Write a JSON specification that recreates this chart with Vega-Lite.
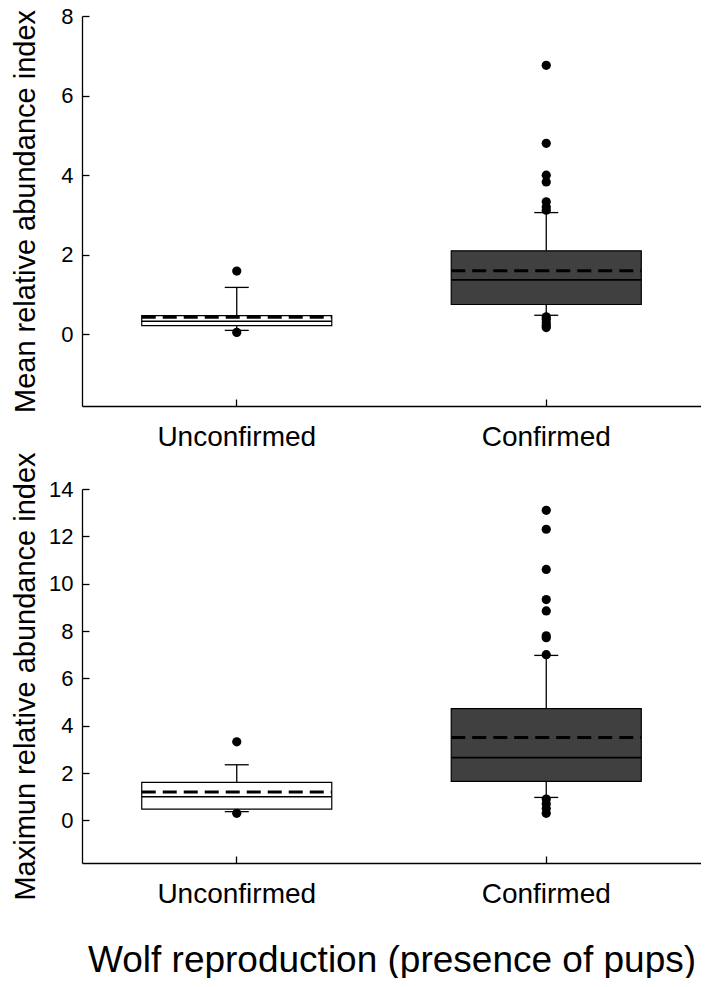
{
  "$schema": "https://vega.github.io/schema/vega-lite/v6.json",
  "background": "white",
  "padding": {"left": 10, "top": 5, "right": 0, "bottom": 0},
  "autosize": {"type": "pad"},
  "config": {
    "view": {"stroke": null},
    "font": "Liberation Sans",
    "axis": {
      "domainColor": "black", "domainWidth": 1.3, "tickColor": "black", "tickWidth": 1.3, "tickSize": -7,
      "labelColor": "black", "titleColor": "black", "grid": false,
      "labelFont": "Liberation Sans", "titleFont": "Liberation Sans", "titleFontWeight": "normal"
    }
  },
  "datasets": {
    "stats": [
      {"panel": "mean", "group": "Unconfirmed", "lower": 0.1, "q1": 0.22, "median": 0.33, "mean": 0.43, "q3": 0.47, "upper": 1.18},
      {"panel": "mean", "group": "Confirmed", "lower": 0.48, "q1": 0.75, "median": 1.37, "mean": 1.6, "q3": 2.1, "upper": 3.06},
      {"panel": "max", "group": "Unconfirmed", "lower": 0.37, "q1": 0.48, "median": 1.0, "mean": 1.2, "q3": 1.61, "upper": 2.35},
      {"panel": "max", "group": "Confirmed", "lower": 0.97, "q1": 1.65, "median": 2.65, "mean": 3.5, "q3": 4.72, "upper": 6.97}
    ],
    "outliers": [
      {"panel": "mean", "group": "Unconfirmed", "value": 1.59},
      {"panel": "mean", "group": "Unconfirmed", "value": 0.05},
      {"panel": "mean", "group": "Confirmed", "value": 6.76},
      {"panel": "mean", "group": "Confirmed", "value": 4.8},
      {"panel": "mean", "group": "Confirmed", "value": 4.0},
      {"panel": "mean", "group": "Confirmed", "value": 3.83},
      {"panel": "mean", "group": "Confirmed", "value": 3.33},
      {"panel": "mean", "group": "Confirmed", "value": 3.2},
      {"panel": "mean", "group": "Confirmed", "value": 3.12},
      {"panel": "mean", "group": "Confirmed", "value": 0.44},
      {"panel": "mean", "group": "Confirmed", "value": 0.38},
      {"panel": "mean", "group": "Confirmed", "value": 0.3},
      {"panel": "mean", "group": "Confirmed", "value": 0.23},
      {"panel": "mean", "group": "Confirmed", "value": 0.17},
      {"panel": "max", "group": "Unconfirmed", "value": 3.32},
      {"panel": "max", "group": "Unconfirmed", "value": 0.3},
      {"panel": "max", "group": "Confirmed", "value": 13.1},
      {"panel": "max", "group": "Confirmed", "value": 12.3},
      {"panel": "max", "group": "Confirmed", "value": 10.6},
      {"panel": "max", "group": "Confirmed", "value": 9.33},
      {"panel": "max", "group": "Confirmed", "value": 8.85},
      {"panel": "max", "group": "Confirmed", "value": 7.8},
      {"panel": "max", "group": "Confirmed", "value": 7.72},
      {"panel": "max", "group": "Confirmed", "value": 7.0},
      {"panel": "max", "group": "Confirmed", "value": 0.9},
      {"panel": "max", "group": "Confirmed", "value": 0.7},
      {"panel": "max", "group": "Confirmed", "value": 0.5},
      {"panel": "max", "group": "Confirmed", "value": 0.3}
    ]
  },
  "spacing": 83,
  "bounds": "flush",
  "vconcat": [
    {
      "width": 619,
      "height": 390,
      "layer": [
        {
          "data": {"name": "stats"},
          "transform": [{"filter": "datum.panel === 'mean'"}],
          "mark": {"type": "rule", "color": "black", "strokeWidth": 1.3},
          "encoding": {
            "x": {"field": "group", "type": "nominal", "sort": ["Unconfirmed", "Confirmed"],
              "scale": {"type": "band", "domain": ["Unconfirmed", "Confirmed"], "paddingInner": 0.386, "paddingOuter": 0.193},
              "axis": {"title": null, "labelAngle": 0, "labelFontSize": 28, "labelPadding": 24}},
            "y": {"field": "lower", "type": "quantitative",
              "scale": {"domain": [-1.8, 8], "nice": false, "zero": false},
              "axis": {"values": [0, 2, 4, 6, 8], "labelFontSize": 22, "labelPadding": 16,
                "title": "Mean relative abundance index", "titleFontSize": 29, "titleX": -48, "titleBaseline": "alphabetic"}},
            "y2": {"field": "upper"}
          }
        },
        {
          "data": {"name": "stats"},
          "transform": [{"filter": "datum.panel === 'mean'"}],
          "mark": {"type": "bar", "stroke": "black", "strokeWidth": 1.2},
          "encoding": {
            "x": {"field": "group", "type": "nominal"},
            "y": {"field": "q1", "type": "quantitative"},
            "y2": {"field": "q3"},
            "fill": {"field": "group", "type": "nominal", "scale": {"domain": ["Unconfirmed", "Confirmed"], "range": ["#ffffff", "#404040"]}, "legend": null}
          }
        },
        {
          "data": {"name": "stats"},
          "transform": [{"filter": "datum.panel === 'mean'"}],
          "mark": {"type": "rule", "color": "black", "strokeWidth": 1.6},
          "encoding": {
            "x": {"field": "group", "type": "nominal", "bandPosition": 0},
            "x2": {"field": "group", "bandPosition": 1},
            "y": {"field": "median", "type": "quantitative"}
          }
        },
        {
          "data": {"name": "stats"},
          "transform": [{"filter": "datum.panel === 'mean'"}],
          "mark": {"type": "rule", "color": "black", "strokeWidth": 3, "strokeDash": [14, 7]},
          "encoding": {
            "x": {"field": "group", "type": "nominal", "bandPosition": 0},
            "x2": {"field": "group", "bandPosition": 1},
            "y": {"field": "mean", "type": "quantitative"}
          }
        },
        {
          "data": {"name": "stats"},
          "transform": [{"filter": "datum.panel === 'mean'"}],
          "mark": {"type": "tick", "color": "black", "size": 24, "thickness": 1.3, "opacity": 1},
          "encoding": {
            "x": {"field": "group", "type": "nominal"},
            "y": {"field": "upper", "type": "quantitative"}
          }
        },
        {
          "data": {"name": "stats"},
          "transform": [{"filter": "datum.panel === 'mean'"}],
          "mark": {"type": "tick", "color": "black", "size": 24, "thickness": 1.3, "opacity": 1},
          "encoding": {
            "x": {"field": "group", "type": "nominal"},
            "y": {"field": "lower", "type": "quantitative"}
          }
        },
        {
          "data": {"name": "outliers"},
          "transform": [{"filter": "datum.panel === 'mean'"}],
          "mark": {"type": "point", "filled": true, "color": "black", "size": 85, "opacity": 1},
          "encoding": {
            "x": {"field": "group", "type": "nominal"},
            "y": {"field": "value", "type": "quantitative"}
          }
        }
      ]
    },
    {
      "width": 619,
      "height": 374,
      "layer": [
        {
          "data": {"name": "stats"},
          "transform": [{"filter": "datum.panel === 'max'"}],
          "mark": {"type": "rule", "color": "black", "strokeWidth": 1.3},
          "encoding": {
            "x": {"field": "group", "type": "nominal", "sort": ["Unconfirmed", "Confirmed"],
              "scale": {"type": "band", "domain": ["Unconfirmed", "Confirmed"], "paddingInner": 0.386, "paddingOuter": 0.193},
              "axis": {"labelAngle": 0, "labelFontSize": 28, "labelPadding": 24,
                "title": "Wolf reproduction (presence of pups)", "titleFontSize": 37, "titleY": 108, "titleBaseline": "alphabetic"}},
            "y": {"field": "lower", "type": "quantitative",
              "scale": {"domain": [-1.8, 14], "nice": false, "zero": false},
              "axis": {"values": [0, 2, 4, 6, 8, 10, 12, 14], "labelFontSize": 22, "labelPadding": 16,
                "title": "Maximun relative abundance index", "titleFontSize": 29, "titleX": -48, "titleBaseline": "alphabetic"}},
            "y2": {"field": "upper"}
          }
        },
        {
          "data": {"name": "stats"},
          "transform": [{"filter": "datum.panel === 'max'"}],
          "mark": {"type": "bar", "stroke": "black", "strokeWidth": 1.2},
          "encoding": {
            "x": {"field": "group", "type": "nominal"},
            "y": {"field": "q1", "type": "quantitative"},
            "y2": {"field": "q3"},
            "fill": {"field": "group", "type": "nominal", "scale": {"domain": ["Unconfirmed", "Confirmed"], "range": ["#ffffff", "#404040"]}, "legend": null}
          }
        },
        {
          "data": {"name": "stats"},
          "transform": [{"filter": "datum.panel === 'max'"}],
          "mark": {"type": "rule", "color": "black", "strokeWidth": 1.6},
          "encoding": {
            "x": {"field": "group", "type": "nominal", "bandPosition": 0},
            "x2": {"field": "group", "bandPosition": 1},
            "y": {"field": "median", "type": "quantitative"}
          }
        },
        {
          "data": {"name": "stats"},
          "transform": [{"filter": "datum.panel === 'max'"}],
          "mark": {"type": "rule", "color": "black", "strokeWidth": 3, "strokeDash": [14, 7]},
          "encoding": {
            "x": {"field": "group", "type": "nominal", "bandPosition": 0},
            "x2": {"field": "group", "bandPosition": 1},
            "y": {"field": "mean", "type": "quantitative"}
          }
        },
        {
          "data": {"name": "stats"},
          "transform": [{"filter": "datum.panel === 'max'"}],
          "mark": {"type": "tick", "color": "black", "size": 24, "thickness": 1.3, "opacity": 1},
          "encoding": {
            "x": {"field": "group", "type": "nominal"},
            "y": {"field": "upper", "type": "quantitative"}
          }
        },
        {
          "data": {"name": "stats"},
          "transform": [{"filter": "datum.panel === 'max'"}],
          "mark": {"type": "tick", "color": "black", "size": 24, "thickness": 1.3, "opacity": 1},
          "encoding": {
            "x": {"field": "group", "type": "nominal"},
            "y": {"field": "lower", "type": "quantitative"}
          }
        },
        {
          "data": {"name": "outliers"},
          "transform": [{"filter": "datum.panel === 'max'"}],
          "mark": {"type": "point", "filled": true, "color": "black", "size": 85, "opacity": 1},
          "encoding": {
            "x": {"field": "group", "type": "nominal"},
            "y": {"field": "value", "type": "quantitative"}
          }
        }
      ]
    }
  ]
}
